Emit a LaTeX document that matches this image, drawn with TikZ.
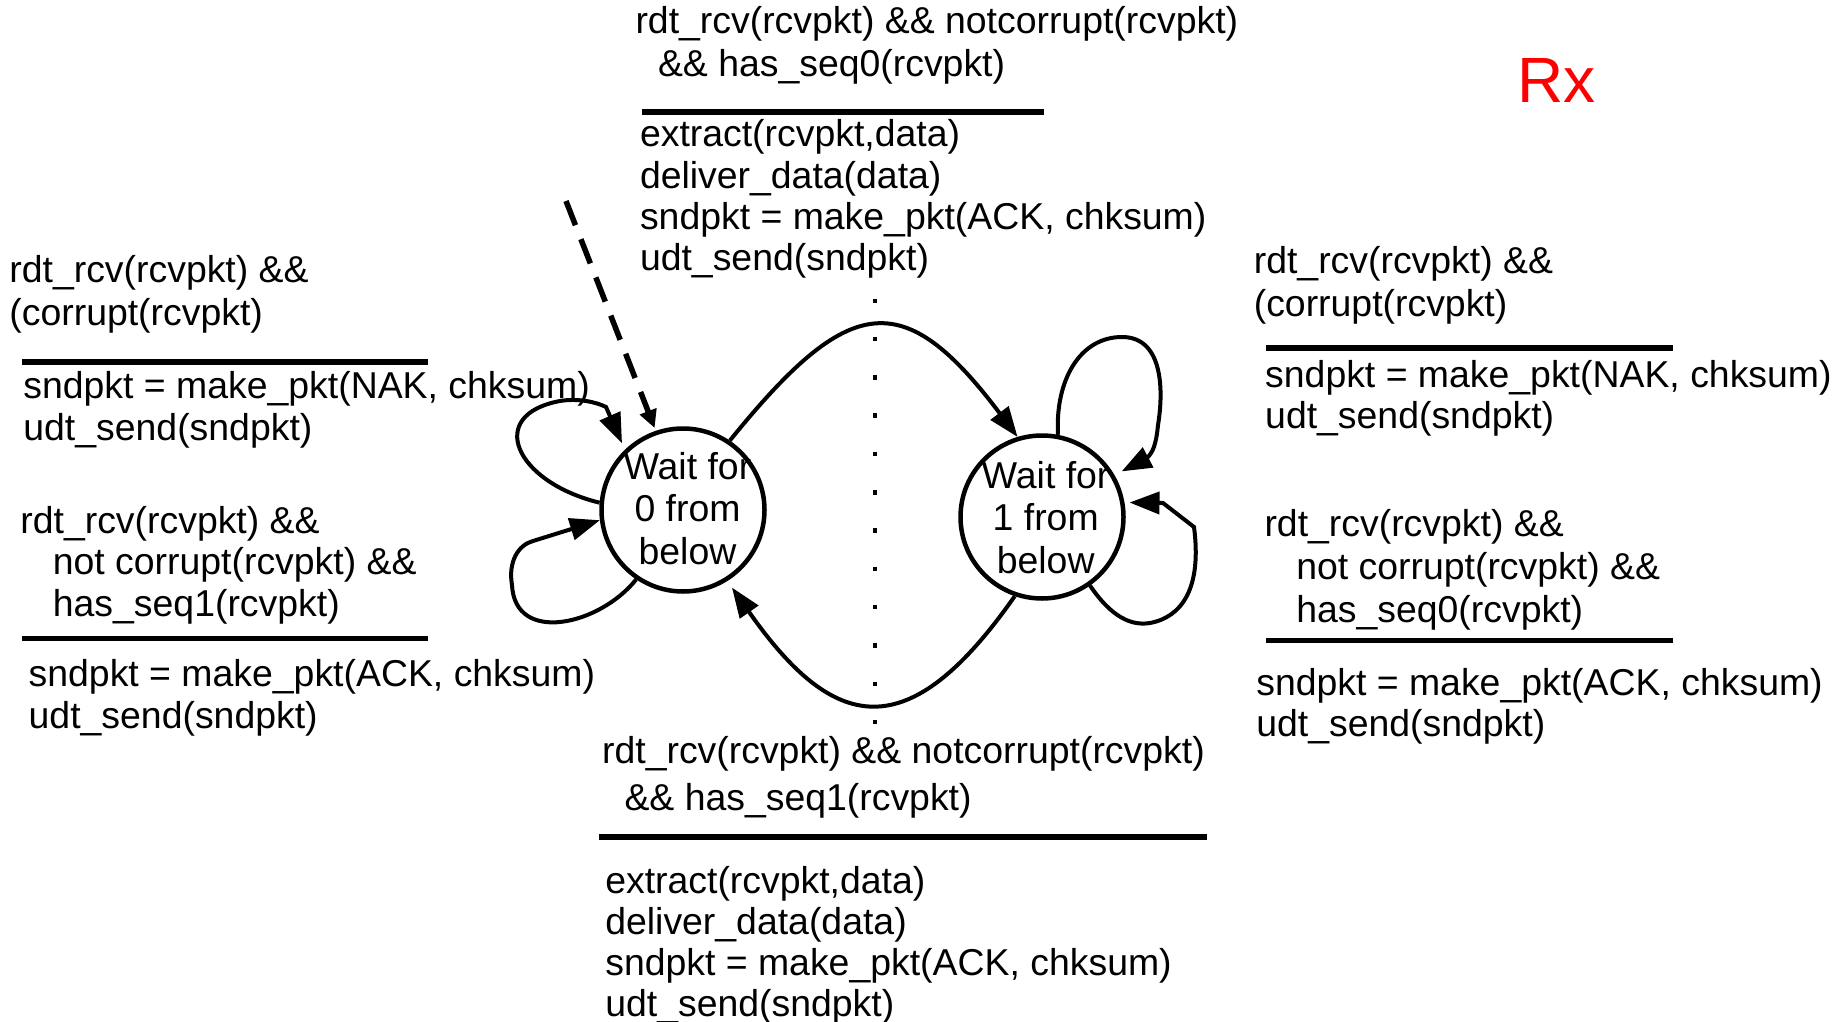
\documentclass[tikz,border=0pt]{standalone}
\usepackage{fontspec}
\setmainfont{Liberation Sans}
\usetikzlibrary{arrows.meta}
\newcommand\blk[2]{{\fontsize{37.4}{#1}\selectfont\begin{tabular}[t]{@{}l@{}}#2\end{tabular}}}
\newcommand\cblk[2]{{\fontsize{37.4}{#1}\selectfont\begin{tabular}[t]{@{}c@{}}#2\end{tabular}}}
\begin{document}
\begin{tikzpicture}[x=1pt,y=-1pt,
  state/.style={circle,draw,line width=4.5pt,minimum size=163pt,inner sep=0pt},
  txt/.style={anchor=base west,inner sep=0pt,outer sep=0pt},
  ctxt/.style={anchor=base,inner sep=0pt,outer sep=0pt},
  rulebar/.style={line width=5.5pt},
  edge/.style={line width=4pt,-{Triangle[length=30pt,width=22pt]}},
  initedge/.style={line width=5.5pt,dash pattern=on 26pt off 15pt,-{Triangle[length=18pt,width=17pt]}},
  dotline/.style={line width=4pt,dash pattern=on 4.5pt off 33.8pt}]
\fill[white] (0,0) rectangle (1847,1022);
\useasboundingbox (0,0) rectangle (1847,1022);

% states
\node[state] (s0) at (683,510) {};
\node[state] (s1) at (1042,517) {};
\node[ctxt] (t0) at (687.5,479) {\cblk{42.5}{Wait for\\0 from\\below}};
\node[ctxt] (t1) at (1045.7,488) {\cblk{42.5}{Wait for\\1 from\\below}};

% dotted divider
\coordinate (dtop) at (875,298.5);
\coordinate (dbot) at (875,725);
\draw[dotline] (dtop) -- (dbot);

% left texts
\node[txt] (l1) at (9.4,282.7) {\blk{42.3}{rdt\_rcv(rcvpkt) \&\&\\(corrupt(rcvpkt)}};
\draw[rulebar] (21.7,362) -- (428,362);
\node[txt] (l2) at (23.4,398) {\blk{42}{sndpkt = make\_pkt(NAK, chksum)\\udt\_send(sndpkt)}};
\node[txt] (l3) at (20.4,533) {\blk{41.85}{rdt\_rcv(rcvpkt) \&\&\\\hspace{32.5pt}not corrupt(rcvpkt) \&\&\\\hspace{32.5pt}has\_seq1(rcvpkt)}};
\draw[rulebar] (21.7,638.5) -- (428,638.5);
\node[txt] (l4) at (28.7,686.7) {\blk{41.3}{sndpkt = make\_pkt(ACK, chksum)\\udt\_send(sndpkt)}};

% right texts
\node[txt] (r1) at (1253.8,273.4) {\blk{43}{rdt\_rcv(rcvpkt) \&\&\\(corrupt(rcvpkt)}};
\draw[rulebar] (1266,347.8) -- (1672.8,347.8);
\node[txt] (r2) at (1265.2,387.7) {\blk{40.6}{sndpkt = make\_pkt(NAK, chksum)\\udt\_send(sndpkt)}};
\node[txt] (r3) at (1264.5,536.8) {\blk{43}{rdt\_rcv(rcvpkt) \&\&\\\hspace{31.8pt}not corrupt(rcvpkt) \&\&\\\hspace{31.8pt}has\_seq0(rcvpkt)}};
\draw[rulebar] (1266,640.3) -- (1673,640.3);
\node[txt] (r4) at (1256.3,695.2) {\blk{41.3}{sndpkt = make\_pkt(ACK, chksum)\\udt\_send(sndpkt)}};

% top texts
\node[txt] (tp1) at (635.5,33.3) {\blk{43.4}{rdt\_rcv(rcvpkt) \&\& notcorrupt(rcvpkt)\\\hspace{22.5pt}\&\& has\_seq0(rcvpkt)}};
\draw[rulebar] (641.6,112) -- (1044.3,112);
\node[txt] (tp2) at (640,146.7) {\blk{41.3}{extract(rcvpkt,data)\\deliver\_data(data)\\sndpkt = make\_pkt(ACK, chksum)\\udt\_send(sndpkt)}};

% bottom texts
\node[txt] (bt1) at (602.1,763.3) {\blk{47.4}{rdt\_rcv(rcvpkt) \&\& notcorrupt(rcvpkt)\\\hspace{22.4pt}\&\& has\_seq1(rcvpkt)}};
\draw[rulebar] (598.75,837) -- (1207,837);
\node[txt] (bt2) at (605.3,893.3) {\blk{41.1}{extract(rcvpkt,data)\\deliver\_data(data)\\sndpkt = make\_pkt(ACK, chksum)\\udt\_send(sndpkt)}};

% Rx
\node[txt,text=red,font=\fontsize{64}{70}\selectfont] (rx) at (1517.7,102.7) {Rx};

% initial dashed arrow
\coordinate (init) at (566,201);
\draw[initedge,shorten >=3pt] (init) -- (s0.109);

% transitions between states
\draw[edge] (s0.56) .. controls +(51:190pt) and +(127:190pt) .. (s1.107);
\draw[edge,shorten >=8pt] (s1.-109) .. controls +(-125:186pt) and +(-55:186pt) .. (s0.-58);

% self loops on s0
\draw[edge,shorten >=7pt] (s0.175) .. controls (515,482) and (485,415) .. (560,401)
   .. controls (578,398) and (596,402) .. (606,407) -- (s0.134);
\draw[edge] (s0.-124) .. controls (600,625) and (515,645) .. (512,585)
   .. controls (508,562) and (518,545) .. (533,541) -- (s0.-173);

% self loops on s1
\draw[edge,shorten >=8pt] (s1.79) .. controls (1055,380) and (1080,337) .. (1122,337)
   .. controls (1165,337) and (1163,395) .. (1158,425)
   .. controls (1156,445) and (1153,452) .. (1147,458) -- (s1.30);
\draw[edge,shorten >=5pt] (s1.-55) .. controls (1112,618) and (1132,626) .. (1150,623)
   .. controls (1182,617) and (1202,588) .. (1194,527) -- (1163,503) -- (s1.10);
\end{tikzpicture}
\end{document}
